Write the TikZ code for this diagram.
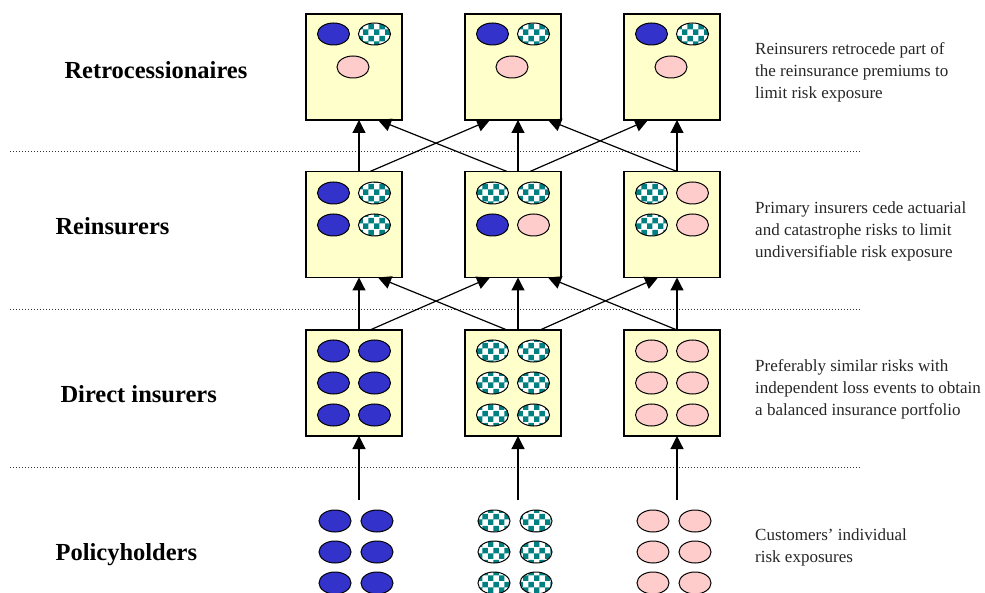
\documentclass[tikz,border=0pt]{standalone}
\usepackage{fontspec}
\setmainfont{Liberation Serif}
\usetikzlibrary{arrows.meta, positioning, calc, patterns}
\definecolor{boxyellow}{RGB}{255,255,204}
\definecolor{ovblue}{RGB}{51,51,204}
\definecolor{ovpink}{RGB}{255,204,204}
\definecolor{ovteal}{RGB}{0,128,128}
\tikzset{
  bxY/.style={draw=black, fill=boxyellow, minimum width=96pt, minimum height=106pt,
              inner sep=0pt, outer sep=0pt, line width=1.2pt},
  ovB/.style={draw=black, fill=ovblue, line width=1pt},
  ovC/.style={draw=black, line width=1pt, preaction={fill=white},
              pattern=checkerboard, pattern color=ovteal},
  ovP/.style={draw=black, fill=ovpink, line width=1pt},
  arr/.style={-{Triangle[length=13pt, width=13pt]}, line width=1.2pt},
  sep/.style={dash pattern=on 1pt off 2pt, line width=0.9pt, black!80},
  lvl/.style={font=\fontsize{24.5}{28}\selectfont\bfseries, anchor=west},
  note/.style={font=\fontsize{17}{22}\selectfont, align=left, anchor=west,
               inner sep=0pt, text=black!85},
}

\begin{document}
\begin{tikzpicture}[x=1pt, y=-1pt]
  \useasboundingbox (0,0) rectangle (985,593);

  % ── the three tiers of boxes ───────────────────────────────
  \node[bxY] (t1) at (354,67) {};
  \node[bxY, right=63pt of t1] (t2) {};
  \node[bxY, right=63pt of t2] (t3) {};
  \node[bxY] (r1) at (354,224.5) {};
  \node[bxY, right=63pt of r1] (r2) {};
  \node[bxY, right=63pt of r2] (r3) {};
  \node[bxY] (d1) at (354,383) {};
  \node[bxY, right=63pt of d1] (d2) {};
  \node[bxY, right=63pt of d2] (d3) {};

  % ── separators ──────────────────────────────────────────────
  \foreach \y in {151,309,467} \draw[sep] (10,\y) -- (860,\y);

  % ── ovals inside the boxes ─────────────────────────────────
  \foreach \bx in {t1,t2,t3} {
    \draw[ovB] ($(\bx)+(-20.5,-33)$) ellipse[x radius=16pt, y radius=11pt];
    \draw[ovC] ($(\bx)+(20.5,-33)$) ellipse[x radius=16pt, y radius=11pt];
    \draw[ovP] ($(\bx)+(-1,0)$) ellipse[x radius=16pt, y radius=11pt];
  }
  \foreach \bx/\c/\dx/\dy in {r1/B/-20.5/-31.5, r1/C/20.5/-31.5, r1/B/-20.5/0.5, r1/C/20.5/0.5,
                              r2/C/-20.5/-31.5, r2/C/20.5/-31.5, r2/B/-20.5/0.5, r2/P/20.5/0.5,
                              r3/C/-20.5/-31.5, r3/P/20.5/-31.5, r3/C/-20.5/0.5, r3/P/20.5/0.5}
    \draw[ov\c] ($(\bx)+(\dx,\dy)$) ellipse[x radius=16pt, y radius=11pt];
  \foreach \bx/\c in {d1/B,d2/C,d3/P}
    \foreach \dx in {-20.5,20.5} \foreach \dy in {-32,0,32}
      \draw[ov\c] ($(\bx)+(\dx,\dy)$) ellipse[x radius=16pt, y radius=11pt];

  % ── policyholders ───────────────────────────────────────────
  \foreach \cx/\c in {356/B,515/C,674/P}
    \foreach \dx in {-21,21} \foreach \y in {521,552,583}
      \draw[ov\c] (\cx+\dx,\y) ellipse[x radius=16pt, y radius=11pt];
  \coordinate (p1) at (359,500);
  \coordinate (p2) at (518,500);
  \coordinate (p3) at (677,500);

  % ── arrows ──────────────────────────────────────────────────
  \foreach \i in {1,2,3} \draw[arr] (p\i) -- (p\i |- d\i.south);
  \foreach \lo/\up/\a/\b in {d1/r1/5/5, d2/r2/5/5, d3/r3/5/5,
                             d1/r2/16/-23, d2/r1/-6/24, d2/r3/27/-14, d3/r2/5/35}
    \draw[arr] ([xshift=\a pt]\lo.north) -- ([xshift=\b pt]\up.south);
  \foreach \lo/\up/\a/\b in {r1/t1/5/5, r2/t2/5/5, r3/t3/5/5,
                             r1/t2/16/-23, r2/t1/-6/24, r2/t3/17/-24, r3/t2/5/35}
    \draw[arr] ([xshift=\a pt]\lo.north) -- ([xshift=\b pt]\up.south);

  % ── tier labels ─────────────────────────────────────────────
  \node[lvl] (lblT) at (61,70) {Retrocessionaires};
  \node[lvl] (lblR) at (52,226) {Reinsurers};
  \node[lvl] (lblD) at (57,394) {Direct insurers};
  \node[lvl] (lblP) at (52,555) {Policyholders};

  % ── notes on the right ──────────────────────────────────────
  \node[note] (noteT) at (755,72) {Reinsurers retrocede part of\\the reinsurance premiums to\\limit risk exposure};
  \node[note] (noteR) at (755,231) {Primary insurers cede actuarial\\and catastrophe risks to limit\\undiversifiable risk exposure};
  \node[note] (noteD) at (755,389) {Preferably similar risks with\\independent loss events to obtain\\a balanced insurance portfolio};
  \node[note] (noteP) at (755,547.5) {Customers’ individual\\risk exposures};
\end{tikzpicture}
\end{document}
